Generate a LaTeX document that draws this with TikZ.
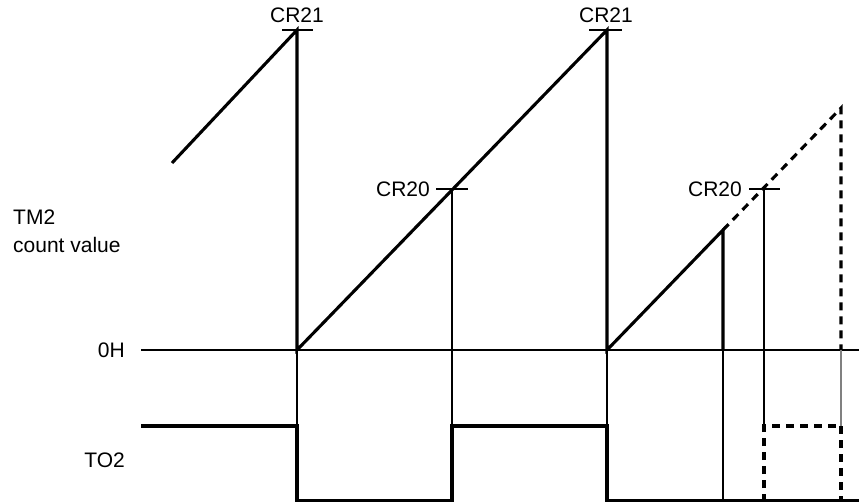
\documentclass[tikz,border=0pt]{standalone}
\usepackage{fontspec}
\setmainfont{Liberation Sans}
\begin{document}
\begin{tikzpicture}[x=1pt,y=-1pt,
  thickln/.style={line width=3.1pt},
  thinln/.style={line width=1.3pt},
  dashln/.style={line width=3.1pt,dash pattern=on 8pt off 6pt},
  lbl/.style={inner sep=0pt,font=\fontsize{21}{24}\selectfont}]
\useasboundingbox (0,0) rectangle (859,502);
% coordinates
\coordinate (zl) at (141,350);
\coordinate (zr) at (859,350);
\coordinate (r0) at (172,163);
\coordinate (p1) at (297,30);
\coordinate (b1) at (297,350);
\coordinate (p2) at (607,30);
\coordinate (b2) at (607,350);
\coordinate (s3) at (723,230);
\coordinate (b3) at (723,350);
\coordinate (d3) at (841,108);
\coordinate (c1) at (452,189);
\coordinate (c2) at (764,189);
% baseline
\draw[thinln] (zl) -- (zr);
% sawtooth
\draw[thickln] (r0) -- (p1) -- (b1) -- (p2) -- (b2) -- (s3) -- (b3);
\draw[dashln] (s3) -- (d3) -- (841,350);
\draw[thinln,gray] (841,350) -- (841,426);
\draw[dashln] (841,426) -- (841,502);
% thin guides
\draw[thinln] (b1) -- (297,426);
\draw[thinln] (c1) -- (452,426);
\draw[thinln] (b2) -- (607,426);
\draw[thinln] (b3) -- (723,502);
\draw[thinln] (c2) -- (764,426);
% ticks
\draw[thinln] (282,30) -- (313,30);
\draw[thinln] (589,30) -- (622,30);
\draw[thinln] (436,189) -- (468,189);
\draw[thinln] (749,189) -- (780,189);
% TO2 waveform
\draw[thickln] (141,426) -- (297,426) -- (297,501) -- (452,501) -- (452,426) -- (607,426) -- (607,501) -- (859,501);
\draw[dashln] (764,502) -- (764,426) -- (841,426);
% labels
\node[lbl,anchor=base] (cr21a) at (297,23) {CR21};
\node[lbl,anchor=base] (cr21b) at (606,23) {CR21};
\node[lbl,anchor=base east] (cr20a) at (430,197) {CR20};
\node[lbl,anchor=base east] (cr20b) at (742,197) {CR20};
\node[lbl,anchor=base west] (tm2) at (13,225) {TM2};
\node[lbl,anchor=base west] (cnt) at (13,253) {count value};
\node[lbl,anchor=base east] (zh) at (125,357) {0H};
\node[lbl,anchor=base east] (to2) at (125,467) {TO2};
\end{tikzpicture}
\end{document}
